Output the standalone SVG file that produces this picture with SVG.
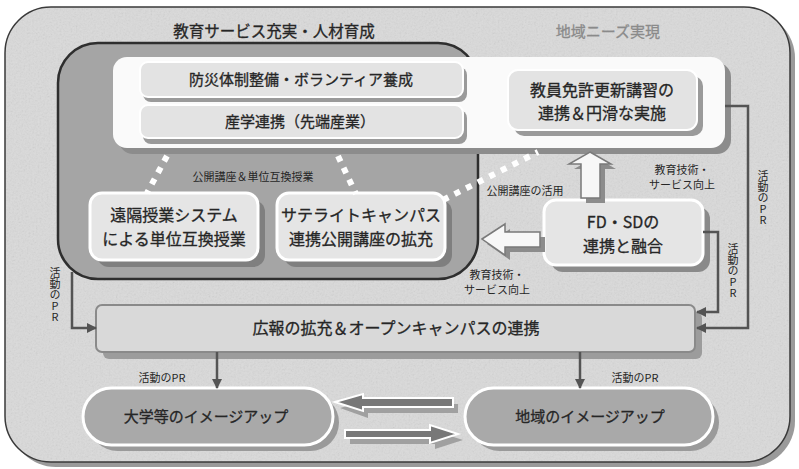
<svg xmlns="http://www.w3.org/2000/svg" width="799" height="469" viewBox="0 0 799 469">
<defs>
<style>
text{font-family:"Noto Sans CJK JP","Liberation Sans",sans-serif;fill:#262626;}
.t15{font-size:15px;stroke:#262626;stroke-width:0.3;}
.t16{font-size:16px;stroke:#262626;stroke-width:0.3;}
.t11{font-size:11px;}
.vt{font-size:11px;writing-mode:vertical-rl;text-orientation:upright;}
.sh{fill:#8c8c8c;}
.boxl{fill:#e3e3e3;stroke:#ffffff;stroke-width:2;}
.boxw{fill:#e5e5e5;stroke:#ffffff;stroke-width:3;}
.conn{fill:none;stroke:#545454;stroke-width:2.5;}
.dots{fill:none;stroke:#ffffff;stroke-width:6;stroke-dasharray:6 7;}
.hollow{fill:#f7f7f7;stroke:#7a7a7a;stroke-width:1.5;}
.dark{fill:#787878;stroke:#ffffff;stroke-width:2;}
.oval{fill:#a9a9a9;stroke:#ffffff;stroke-width:3;}
</style>
<filter id="noise" x="0" y="0" width="100%" height="100%">
<feTurbulence type="fractalNoise" baseFrequency="0.55" numOctaves="3" seed="7" result="n"/>
<feColorMatrix in="n" type="saturate" values="0" result="g"/>
<feComposite in="g" in2="SourceGraphic" operator="in"/>
</filter>
<marker id="ah" viewBox="0 0 10 10" refX="9" refY="5" markerWidth="10" markerHeight="10" markerUnits="userSpaceOnUse" orient="auto">
<path d="M0,0 L10,5 L0,10 z" fill="#545454"/>
</marker>
</defs>

<g id="background">
<rect x="10" y="12" width="785" height="455" rx="46" fill="#9a9a9a"/>
<rect x="5" y="7" width="785" height="455" rx="46" fill="#dadada" stroke="#3a3a3a" stroke-width="1.5"/>
<rect x="6" y="8" width="783" height="453" rx="45" fill="#fff" filter="url(#noise)" opacity="0.2"/>
<text x="274" y="37" class="t15" text-anchor="middle" style="font-size:15.5px">教育サービス充実・人材育成</text>
<text x="608" y="37" class="t15" text-anchor="middle" style="fill:#8a8a8a;stroke:#8a8a8a">地域ニーズ実現</text>
</g>

<g id="region-education">
<rect x="58" y="43" width="420" height="236" rx="40" fill="#a5a5a5" stroke="#2e2e2e" stroke-width="2.5"/>
</g>

<g id="panel-top">
<rect x="119" y="63" width="612" height="91" rx="14" class="sh"/>
<rect x="113" y="57" width="612" height="91" rx="14" fill="#fafafa"/>
</g>

<g id="node-bousai">
<rect x="143" y="67" width="324" height="35" rx="8" fill="#9a9a9a"/>
<rect x="140" y="62" width="323" height="35" rx="8" class="boxl"/>
<text x="301" y="85" class="t15" text-anchor="middle">防災体制整備・ボランティア養成</text>
</g>

<g id="node-sangaku">
<rect x="143" y="110" width="324" height="34" rx="8" fill="#9a9a9a"/>
<rect x="140" y="105" width="323" height="33" rx="8" class="boxl"/>
<text x="300" y="127" class="t15" text-anchor="middle">産学連携（先端産業）</text>
</g>

<g id="node-kyoin">
<rect x="514" y="76" width="189" height="60" rx="10" fill="#9a9a9a"/>
<rect x="508" y="70" width="189" height="60" rx="10" class="boxl"/>
<text x="602" y="96" class="t16" text-anchor="middle">教員免許更新講習の</text>
<text x="602" y="119" class="t16" text-anchor="middle">連携＆円滑な実施</text>
</g>

<g id="node-enkaku">
<rect x="97" y="200" width="168" height="67" rx="12" fill="#7f7f7f"/>
<rect x="90" y="193" width="168" height="67" rx="12" class="boxw"/>
<text x="174" y="221" class="t16" text-anchor="middle">遠隔授業システム</text>
<text x="174" y="245" class="t16" text-anchor="middle">による単位互換授業</text>
</g>

<g id="node-satellite">
<rect x="284" y="200" width="168" height="67" rx="12" fill="#7f7f7f"/>
<rect x="277" y="193" width="168" height="67" rx="12" class="boxw"/>
<text x="361" y="221" class="t16" text-anchor="middle">サテライトキャンパス</text>
<text x="361" y="245" class="t16" text-anchor="middle">連携公開講座の拡充</text>
</g>

<g id="node-fdsd">
<rect x="551" y="207" width="159" height="65" rx="12" fill="#8a8a8a"/>
<rect x="544" y="200" width="159" height="65" rx="12" class="boxw"/>
<text x="623" y="228" class="t16" text-anchor="middle">FD・SDの</text>
<text x="623" y="252" class="t16" text-anchor="middle">連携と融合</text>
</g>

<g id="node-kouhou">
<rect x="103" y="312" width="599" height="47" rx="6" fill="#9c9c9c"/>
<rect x="96" y="305" width="599" height="47" rx="6" fill="#d9d9d9" stroke="#8a8a8a" stroke-width="2"/>
<text x="396" y="334" class="t16" text-anchor="middle">広報の拡充＆オープンキャンパスの連携</text>
</g>

<g id="node-daigaku">
<rect x="89" y="394" width="250" height="57" rx="28.5" fill="#9a9a9a"/>
<rect x="83" y="388" width="250" height="57" rx="28.5" class="oval"/>
<text x="206" y="422" class="t15" text-anchor="middle">大学等のイメージアップ</text>
</g>

<g id="node-chiiki">
<rect x="471" y="394" width="248" height="57" rx="28.5" fill="#9a9a9a"/>
<rect x="465" y="388" width="248" height="57" rx="28.5" class="oval"/>
<text x="590" y="422" class="t15" text-anchor="middle">地域のイメージアップ</text>
</g>

<g id="connectors">
<line x1="167" y1="156" x2="147" y2="193" class="dots"/>
<line x1="338" y1="156" x2="356" y2="194" class="dots"/>
<line x1="443" y1="200" x2="538" y2="152" class="dots"/>

<polygon points="595,157 616,169 605,169 605,203 586,203 586,169 574,169" fill="#8c8c8c"/>
<polygon points="590,152 611,164 600,164 600,198 581,198 581,164 569,164" class="hollow"/>

<polygon points="487,244 510,229 510,237 545,237 545,252 510,252 510,260" fill="#8c8c8c"/>
<polygon points="482,239 505,224 505,232 540,232 540,247 505,247 505,255" class="hollow"/>

<polygon points="340,408 368,400 368,404 458,404 458,413 368,413 368,418" fill="#a0a0a0"/>
<polygon points="335,402 363,394 363,398 453,398 453,407 363,407 363,411" class="dark"/>
<polygon points="350,436 435,436 435,431 463,440 435,449 435,444 350,444" fill="#a0a0a0"/>
<polygon points="345,430 430,430 430,425 458,434 430,443 430,438 345,438" class="dark"/>

<polyline points="725,106 748,106 748,328 697,328" class="conn" marker-end="url(#ah)"/>
<polyline points="703,232 718,232 718,312 697,312" class="conn" marker-end="url(#ah)"/>
<polyline points="72,272 72,328 96,328" class="conn" marker-end="url(#ah)"/>
<line x1="217" y1="352" x2="217" y2="388" class="conn" marker-end="url(#ah)"/>
<line x1="580" y1="352" x2="580" y2="388" class="conn" marker-end="url(#ah)"/>

<text x="253" y="181" class="t11" text-anchor="middle">公開講座＆単位互換授業</text>
<text x="525" y="195" class="t11" text-anchor="middle">公開講座の活用</text>
<text x="682" y="174" class="t11" text-anchor="middle">教育技術・</text>
<text x="682" y="189" class="t11" text-anchor="middle">サービス向上</text>
<text x="497" y="279" class="t11" text-anchor="middle">教育技術・</text>
<text x="497" y="294" class="t11" text-anchor="middle">サービス向上</text>
<text x="162" y="382" class="t11" text-anchor="middle">活動のPR</text>
<text x="635" y="382" class="t11" text-anchor="middle">活動のPR</text>

<text x="763" y="170" class="vt">活動のPR</text>
<text x="733" y="243" class="vt">活動のPR</text>
<text x="55" y="267" class="vt">活動のPR</text>
</g>
</svg>
